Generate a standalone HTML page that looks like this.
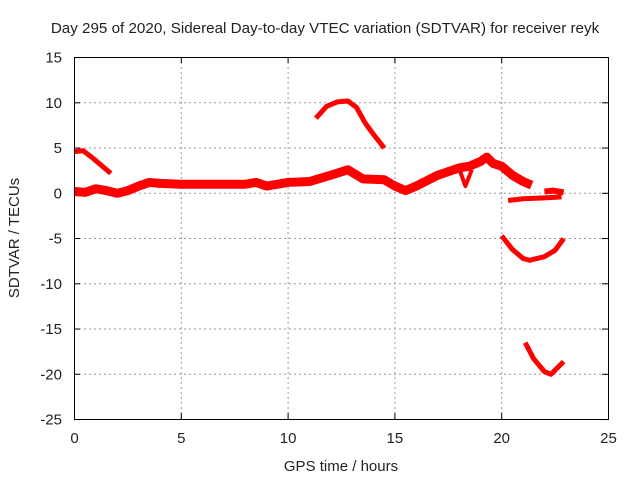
<!DOCTYPE html>
<html><head><meta charset="utf-8"><style>
body{margin:0;background:#fff;}
svg{display:block;font-family:"Liberation Sans",sans-serif;}
</style></head><body>
<svg id="chart" width="640" height="480">
<rect width="640" height="480" fill="#fff"/>
<text x="325" y="33" font-size="15.2" text-anchor="middle" fill="#222">Day 295 of 2020, Sidereal Day-to-day VTEC variation (SDTVAR) for receiver reyk</text>
<text x="341" y="471" font-size="15" text-anchor="middle" fill="#222">GPS time / hours</text>
<text transform="translate(19,238) rotate(-90)" font-size="15" text-anchor="middle" fill="#222">SDTVAR / TECUs</text>
<g id="grid"></g><g id="ticks"></g><g id="series"></g>
<rect x="74.5" y="57.5" width="534" height="362" fill="none" stroke="#000" stroke-width="1"/>
</svg>
<script>
const xTicks=[0,5,10,15,20,25];
const yTicks=[15,10,5,0,-5,-10,-15,-20,-25];
const segDecayX=[0,0.4,0.8,1.2,1.7];
const segDecayY=[4.6,4.7,4.0,3.2,2.2];
const segMainX=[0,0.5,1,1.5,2,2.5,3,3.5,4,5,6,7,8,8.5,9,10,11,12,12.8,13.5,14.5,15,15.5,16,17,18,18.5,19,19.3,19.6,20,20.5,21,21.4];
const segMainY=[0.2,0.1,0.5,0.3,0,0.3,0.8,1.2,1.1,1.0,1.0,1.0,1.0,1.2,0.8,1.2,1.3,2.0,2.6,1.6,1.5,0.8,0.3,0.8,2.0,2.8,3.0,3.5,4.0,3.3,3.0,2.0,1.3,0.9];
const segDipX=[18.0,18.3,18.6];
const segDipY=[2.8,0.8,2.6];
const segArcX=[11.3,11.8,12.3,12.8,13.2,13.6,14,14.5];
const segArcY=[8.3,9.6,10.1,10.2,9.5,7.8,6.5,5.0];
const segFlatX=[20.3,21,22,22.8];
const segFlatY=[-0.8,-0.6,-0.5,-0.4];
const segBumpX=[22.0,22.4,22.9];
const segBumpY=[0.2,0.3,0.1];
const segMidX=[20,20.5,21,21.3,22,22.5,22.9];
const segMidY=[-4.7,-6.2,-7.2,-7.4,-7.0,-6.3,-5.0];
const segLowX=[21.1,21.5,22,22.3,22.9];
const segLowY=[-16.5,-18.3,-19.7,-20,-18.6];
const X=v=>74.5+v*(534/25);
const Y=v=>193.3-v*(362/40);
const NS='http://www.w3.org/2000/svg';
function mk(t,a,p){const e=document.createElementNS(NS,t);for(const k in a)e.setAttribute(k,a[k]);p.appendChild(e);return e;}
const grid=document.getElementById('grid'),ticks=document.getElementById('ticks'),ser=document.getElementById('series');
xTicks.forEach(t=>{
 if(t>0&&t<25){const g=mk('line',{x1:X(t),x2:X(t),y1:57,y2:419,stroke:'#999','stroke-dasharray':'2,3'},grid);
 
 }
 mk('line',{x1:X(t),x2:X(t),y1:419,y2:413,stroke:'#000'},ticks);
 mk('line',{x1:X(t),x2:X(t),y1:57,y2:63,stroke:'#000'},ticks);
 const l=mk('text',{x:X(t),y:443,'font-size':15,'text-anchor':'middle',fill:'#222'},ticks);l.textContent=t;
 
 
});
yTicks.forEach(t=>{
 if(t<15&&t>-25){const g=mk('line',{x1:74,x2:608,y1:Y(t),y2:Y(t),stroke:'#999','stroke-dasharray':'2,3'},grid);
 
 }
 mk('line',{x1:74,x2:80,y1:Y(t),y2:Y(t),stroke:'#000'},ticks);
 mk('line',{x1:602,x2:608,y1:Y(t),y2:Y(t),stroke:'#000'},ticks);
 const l=mk('text',{x:62,y:Y(t)+5,'font-size':15,'text-anchor':'end',fill:'#222'},ticks);l.textContent=t;
 
 
});
function seg(xs,ys,w,name){
 const p=mk('polyline',{points:xs.map((x,i)=>X(x)+','+Y(ys[i])).join(' '),fill:'none',stroke:'#f00','stroke-width':w,'stroke-linejoin':'round'},ser);
 
 
}
seg(segDecayX,segDecayY,5,'series-decay-segment');
seg(segMainX,segMainY,9,'series-main-band');
seg(segDipX,segDipY,4,'series-dip-segment');
seg(segArcX,segArcY,5,'series-arc-segment');
seg(segFlatX,segFlatY,5,'series-flat-segment');
seg(segBumpX,segBumpY,6,'series-bump-segment');
seg(segMidX,segMidY,5,'series-mid-segment');
seg(segLowX,segLowY,5,'series-low-segment');
</script>
</body></html>
